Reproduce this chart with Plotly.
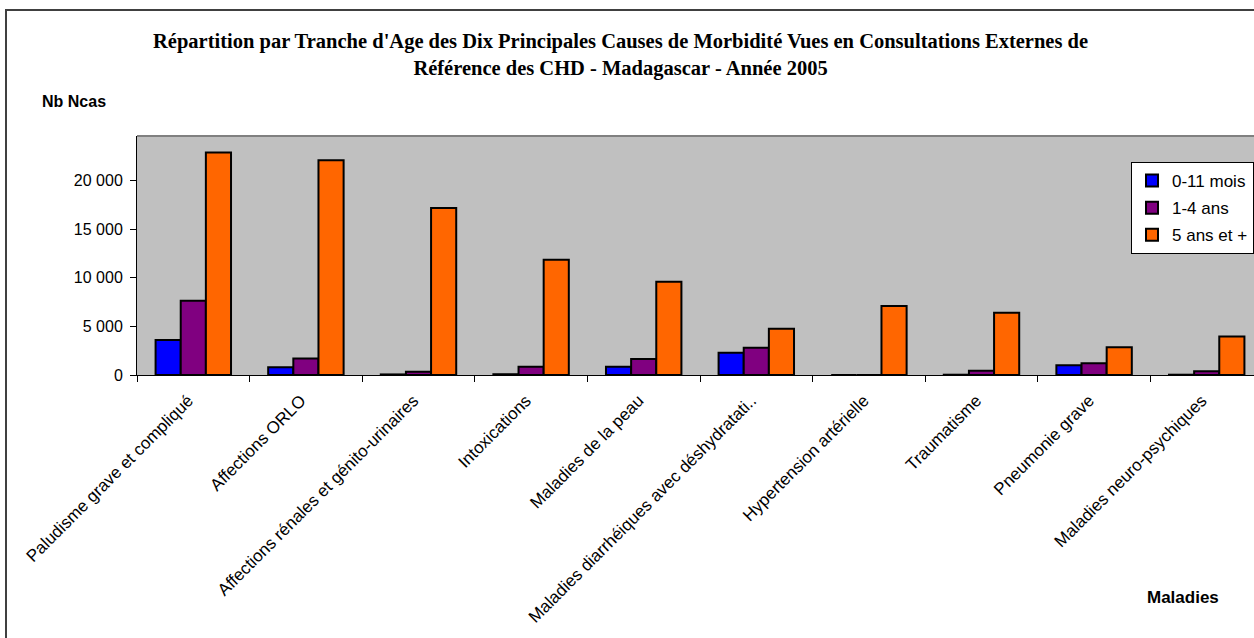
import plotly.graph_objects as go

categories = [
    "Paludisme grave et compliqué",
    "Affections ORLO",
    "Affections rénales et génito-urinaires",
    "Intoxications",
    "Maladies de la peau",
    "Maladies diarrhéiques avec déshydratati..",
    "Hypertension artérielle",
    "Traumatisme",
    "Pneumonie grave",
    "Maladies neuro-psychiques",
]
series_names = ["0-11 mois", "1-4 ans", "5 ans et +"]
v_0_11_mois = [3600, 800, 60, 80, 850, 2300, 0, 30, 1000, 30]
v_1_4_ans = [7650, 1700, 340, 850, 1650, 2800, 0, 440, 1200, 380]
v_5_ans_plus = [22900, 22100, 17200, 11850, 9600, 4750, 7100, 6400, 2850, 3950]
y_ticks = [0, 5000, 10000, 15000, 20000]

colors = ["#0000FF", "#800080", "#FF6600"]

W, H = 1254, 638
L, R, T, B = 137, 1254, 136, 375


def px_x(p):
    return (p - L) / (R - L)


def px_y(p):
    return (B - p) / (B - T)


fig = go.Figure()
for name, vals, col in zip(series_names, [v_0_11_mois, v_1_4_ans, v_5_ans_plus], colors):
    fig.add_trace(go.Bar(
        x=categories, y=vals, name=name, legendgroup=name,
        marker=dict(color=col, line=dict(color="black", width=2)),
    ))

fig.update_layout(
    width=W, height=H,
    margin=dict(l=L, r=W - R, t=T, b=H - B, pad=0),
    paper_bgcolor="white",
    plot_bgcolor="#C0C0C0",
    barmode="group", bargap=0.33, bargroupgap=0,
    separators=". ",
    font=dict(family="Arial, Liberation Sans, sans-serif", color="black", size=15),
    showlegend=True,
    legend=dict(
        x=px_x(1131), y=px_y(162), xanchor="left", yanchor="top",
        bgcolor="white", bordercolor="black", borderwidth=1,
        font=dict(size=17), traceorder="grouped", tracegroupgap=2,
        itemclick=False,
    ),
    xaxis=dict(
        type="category", range=[-0.5, -0.5 + (R - L) / 112.6],
        tickson="boundaries", ticks="outside", ticklen=6, tickcolor="black",
        showline=True, linecolor="black", linewidth=1,
        tickangle=-45, tickfont=dict(size=17), showgrid=False,
        ticklabelstandoff=8, ticklabelshift=-5,
    ),
    yaxis=dict(
        range=[0, 24600], tickvals=y_ticks, tickformat=",d",
        ticks="outside", ticklen=6, tickcolor="black",
        showline=True, linecolor="black", linewidth=1,
        showgrid=False, zeroline=False, tickfont=dict(size=16),
        ticklabelstandoff=4,
    ),
)

shapes = [
    dict(type="line", xref="paper", yref="paper", x0=0, x1=1, y0=1, y1=1,
         line=dict(color="#808080", width=2)),
    dict(type="rect", xref="paper", yref="paper",
         x0=px_x(6), x1=px_x(1400), y0=px_y(800), y1=px_y(10),
         line=dict(color="#404040", width=2), fillcolor="rgba(0,0,0,0)"),
]
fig.update_layout(shapes=shapes)

fig.add_annotation(
    xref="paper", yref="paper", x=px_x(620), y=px_y(55),
    xanchor="center", yanchor="middle", showarrow=False,
    text="<b>Répartition par Tranche d'Age des Dix Principales Causes de Morbidité Vues en Consultations Externes de<br>Référence des CHD - Madagascar - Année 2005</b>",
    font=dict(family="Liberation Serif, Times New Roman, serif", size=20.5, color="black"),
)
fig.add_annotation(
    xref="paper", yref="paper", x=px_x(40), y=px_y(101),
    xanchor="left", yanchor="middle", showarrow=False,
    text="<b>Nb Ncas</b>", font=dict(size=16),
)
fig.add_annotation(
    xref="paper", yref="paper", x=px_x(1183), y=px_y(597),
    xanchor="center", yanchor="middle", showarrow=False,
    text="<b>Maladies</b>", font=dict(size=17),
)

fig.write_html("out.html", post_script="document.body.style.margin='0';",
               config={"displayModeBar": False})
